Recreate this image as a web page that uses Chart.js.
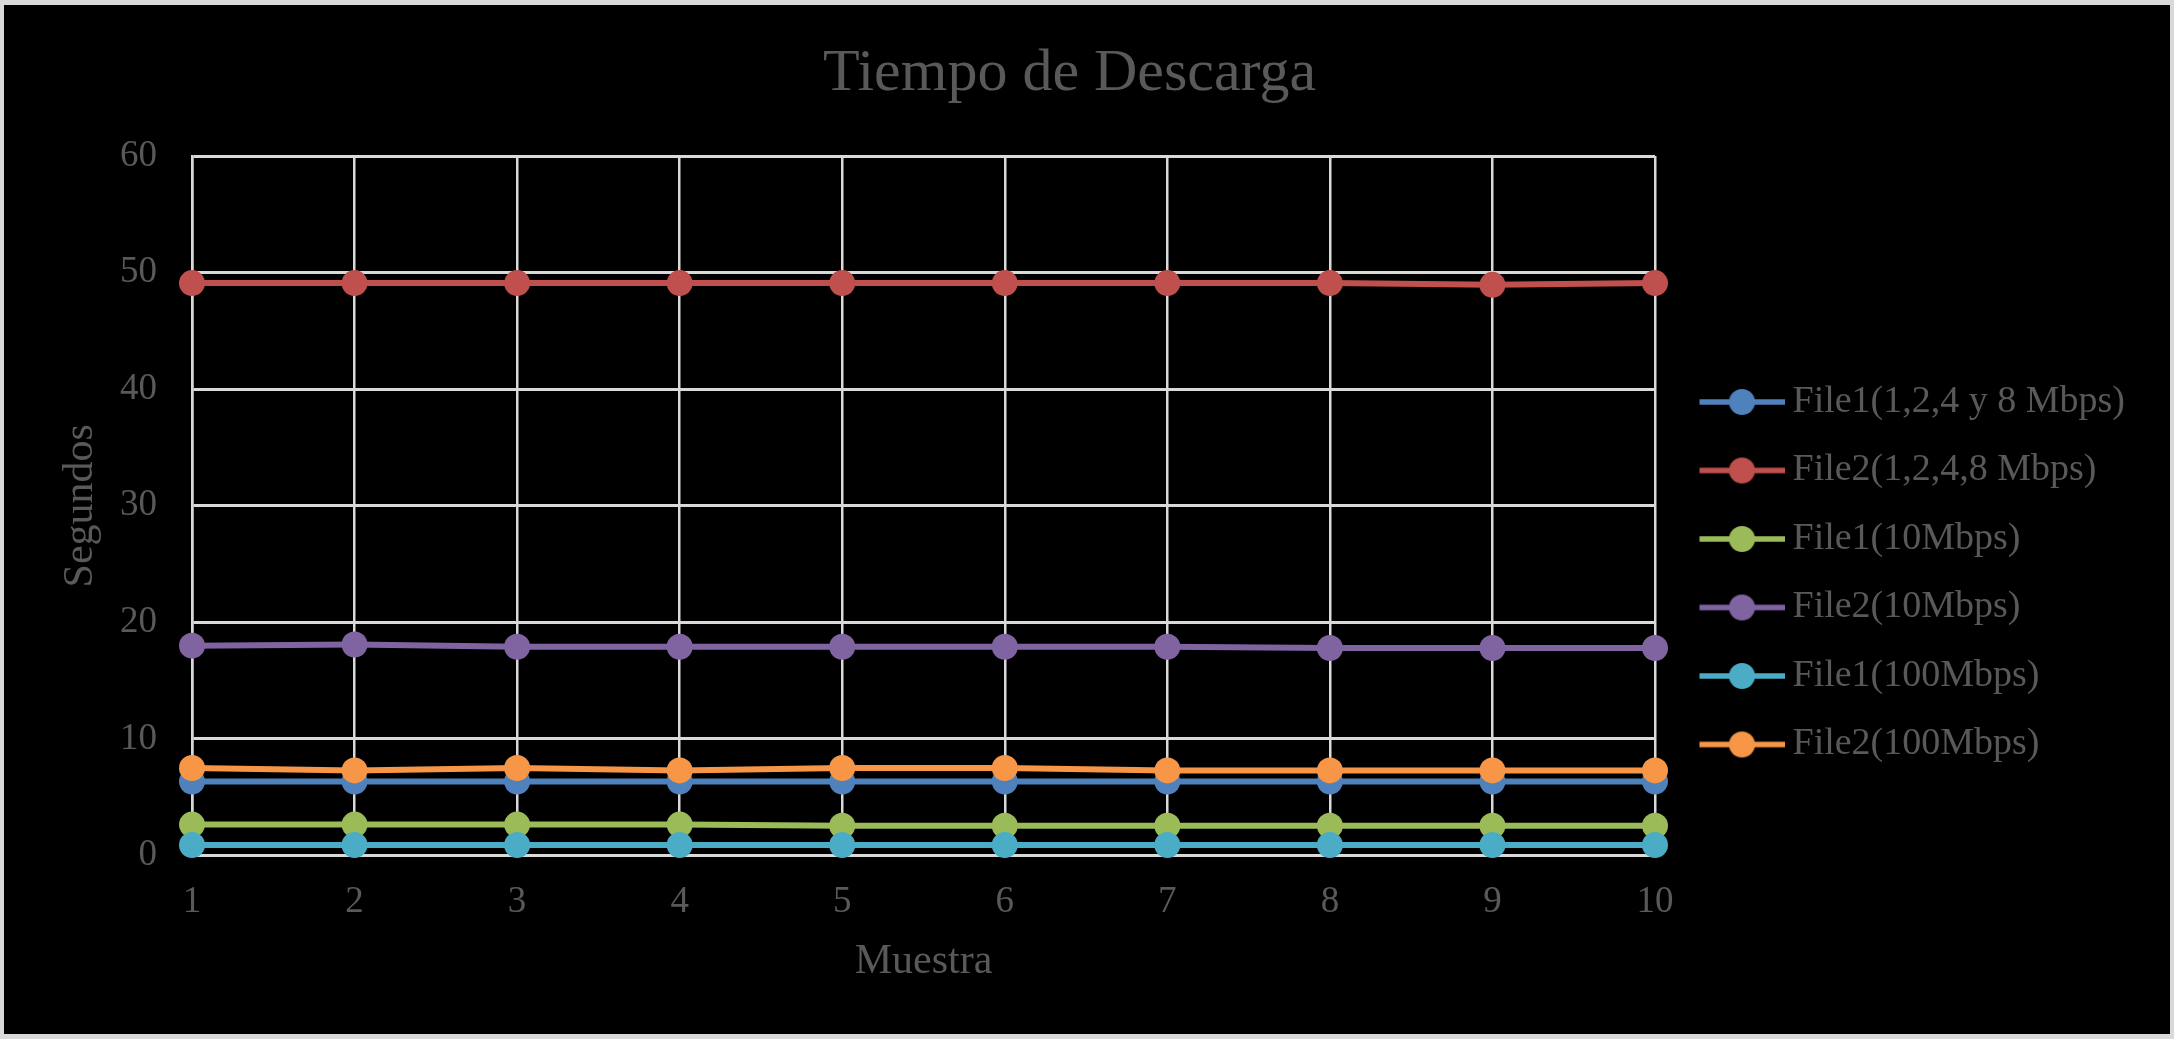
<!DOCTYPE html>
<html>
<head>
<meta charset="utf-8">
<script src="https://cdn.jsdelivr.net/npm/chart.js@4/dist/chart.umd.min.js"></script>
<style>
  html, body { margin: 0; padding: 0; background: #d9d9d9; width: 2174px; height: 1039px; overflow: hidden; }
  #wrap { position: absolute; left: 4px; top: 5px; width: 2166px; height: 1029px; background: #000; }
  canvas { display: block; }
</style>
</head>
<body>
<div id="wrap"><canvas id="c" width="2166" height="1029"></canvas></div>
<script>
// ---- data ----
const categories = ['1', '2', '3', '4', '5', '6', '7', '8', '9', '10'];
const seriesNames = [
  'File1(1,2,4 y 8 Mbps)',
  'File2(1,2,4,8 Mbps)',
  'File1(10Mbps)',
  'File2(10Mbps)',
  'File1(100Mbps)',
  'File2(100Mbps)'
];
const file1Slow = [6.35, 6.35, 6.35, 6.35, 6.35, 6.35, 6.35, 6.35, 6.35, 6.35];
const file2Slow = [49.1, 49.1, 49.1, 49.1, 49.1, 49.1, 49.1, 49.1, 48.95, 49.1];
const file1Mid  = [2.65, 2.65, 2.65, 2.65, 2.55, 2.55, 2.55, 2.55, 2.55, 2.55];
const file2Mid  = [18.0, 18.1, 17.9, 17.9, 17.9, 17.9, 17.9, 17.8, 17.8, 17.8];
const file1Fast = [0.9, 0.9, 0.9, 0.9, 0.9, 0.9, 0.9, 0.9, 0.9, 0.9];
const file2Fast = [7.5, 7.3, 7.5, 7.3, 7.5, 7.5, 7.3, 7.3, 7.3, 7.3];
const yMin = 0, yMax = 60, yStep = 10;
const chartTitle = 'Tiempo de Descarga';
const xTitle = 'Muestra';
const yTitle = 'Segundos';

// ---- styles ----
const seriesValues = [file1Slow, file2Slow, file1Mid, file2Mid, file1Fast, file2Fast];
const colors = ['#4f81bd', '#c0504d', '#9bbb59', '#8064a2', '#4bacc6', '#f79646'];
const textColor = '#595959';
const gridColor = '#d9d9d9';
const FONT = '"Liberation Serif", "Times New Roman", serif';

function legendImage(color) {
  const cv = document.createElement('canvas');
  cv.width = 110; cv.height = 28;
  const g = cv.getContext('2d');
  g.strokeStyle = color; g.lineWidth = 5.5;
  g.beginPath(); g.moveTo(25, 14); g.lineTo(110, 14); g.stroke();
  g.fillStyle = color;
  g.beginPath(); g.arc(67.5, 14, 13, 0, Math.PI * 2); g.fill();
  return cv;
}
const legendImages = colors.map(legendImage);

const datasets = seriesNames.map((name, i) => ({
  label: name,
  data: seriesValues[i],
  borderColor: colors[i],
  backgroundColor: colors[i],
  borderWidth: 6,
  pointRadius: 13,
  pointHoverRadius: 13,
  pointBackgroundColor: colors[i],
  pointBorderColor: colors[i],
  pointBorderWidth: 0,
  tension: 0,
  fill: false,
  clip: false,
  order: seriesNames.length - i
}));

new Chart(document.getElementById('c'), {
  type: 'line',
  data: { labels: categories, datasets },
  options: {
    responsive: false,
    animation: false,
    devicePixelRatio: 1,
    layout: { padding: { left: 0, top: 0, bottom: 0, right: 35 } },
    plugins: {
      tooltip: { enabled: false },
      title: {
        display: true,
        text: chartTitle,
        color: textColor,
        font: { family: FONT, size: 60, weight: 'normal', lineHeight: 1.2 },
        padding: { top: 33, bottom: 46 }
      },
      legend: {
        display: true,
        position: 'right',
        align: 'start',
        title: { display: true, text: ' ', font: { size: 10, lineHeight: 1 }, padding: { top: 337.5, bottom: 0 } },
        labels: {
          usePointStyle: true,
          pointStyleWidth: 88,
          padding: 30.5,
          color: textColor,
          font: { family: FONT, size: 38 },
          generateLabels: (chart) => chart.data.datasets.map((ds, i) => ({
            text: ds.label,
            fillStyle: colors[i],
            strokeStyle: colors[i],
            lineWidth: 0,
            pointStyle: legendImages[i],
            fontColor: textColor,
            hidden: false,
            datasetIndex: i
          }))
        }
      }
    },
    scales: {
      x: {
        type: 'category',
        offset: false,
        grid: { color: gridColor, lineWidth: 2.5, drawTicks: false, offset: false },
        border: { color: gridColor, width: 3 },
        ticks: { color: textColor, font: { family: FONT, size: 37 }, padding: 25, maxRotation: 0 },
        title: { display: true, text: xTitle, color: textColor, font: { family: FONT, size: 42 }, padding: { top: 0, bottom: 47 } },
        afterFit: (axis) => { axis.height = 178.5; }
      },
      y: {
        min: yMin,
        max: yMax,
        ticks: { stepSize: yStep, color: textColor, font: { family: FONT, size: 37 }, padding: 35 },
        grid: { color: gridColor, lineWidth: 3, drawTicks: false },
        border: { color: gridColor, width: 2.5 },
        title: { display: true, text: yTitle, color: textColor, font: { family: FONT, size: 42 }, padding: { top: 52, bottom: 0 } },
        afterFit: (axis) => { axis.width = 188; }
      }
    }
  }
});
</script>
</body>
</html>
